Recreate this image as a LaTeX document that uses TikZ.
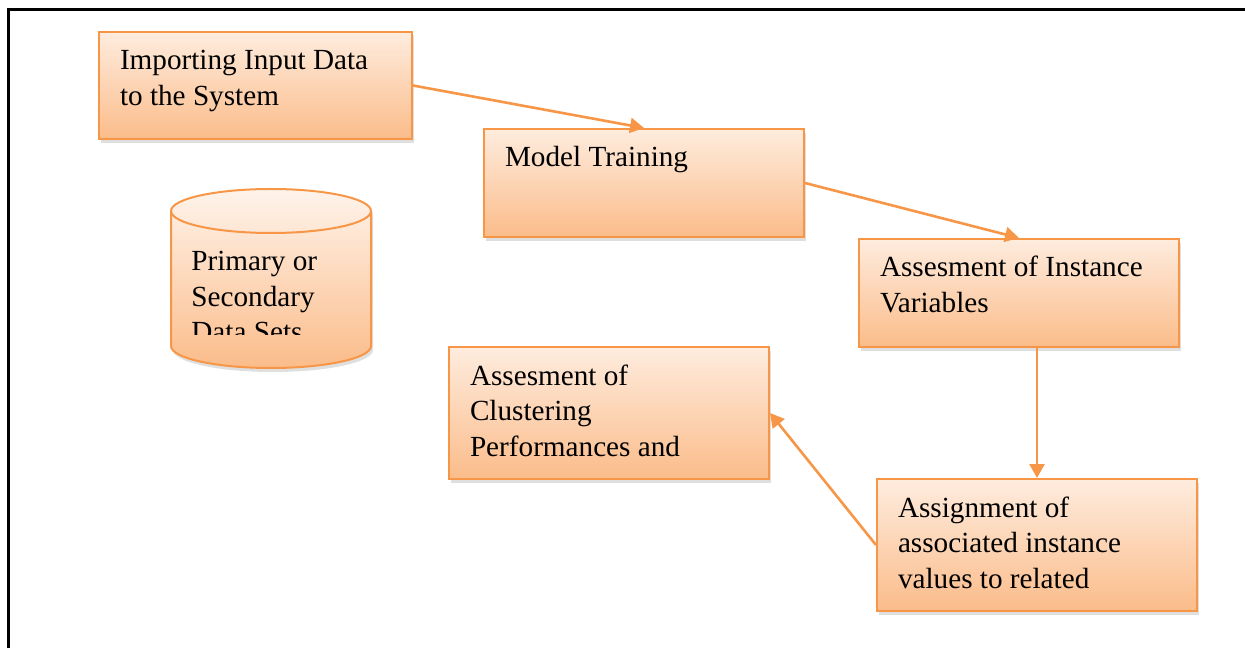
\documentclass[tikz,border=0pt]{standalone}
\usepackage{fontspec}
\setmainfont{Liberation Serif}
\usetikzlibrary{arrows.meta,shadows}

\definecolor{stageline}{RGB}{247,150,70}
\definecolor{stagetop}{RGB}{254,236,222}
\definecolor{stagebot}{RGB}{251,188,138}

\begin{document}
\begin{tikzpicture}[
    x=0.5pt, y=0.5pt,
    stage/.style={draw=stageline, line width=1pt, top color=stagetop, bottom color=stagebot,
      drop shadow={shadow xshift=1pt, shadow yshift=-2pt, opacity=0.25},
      anchor=north west, inner xsep=10.5pt, inner ysep=0pt, text height=19pt,
      font=\fontsize{14.6pt}{17.75pt}\selectfont},
    arr/.style={-{Triangle[length=7pt, width=7.5pt]}, line width=1.3pt, draw=stageline},
  ]
  \useasboundingbox (0,0) rectangle (1245,648);

  % Frame (top and left only)
  \draw[line width=1.5pt] (8,0) -- (8,638) -- (1245,638);

  % Process boxes
  \node[stage, text depth=34.5pt] (import) at (98,617)
    {\parbox[t]{135.5pt}{\raggedright Importing Input Data\\to the System}};
  \node[stage, text depth=35pt] (train) at (483,520)
    {\parbox[t]{139pt}{\raggedright Model Training}};
  \node[stage, text depth=35pt] (assess) at (858,410)
    {\parbox[t]{139pt}{\raggedright Assesment of Instance\\Variables}};
  \node[stage, text depth=47pt] (cluster) at (448,302)
    {\parbox[t]{139pt}{\raggedright Assesment of\\Clustering\\Performances and}};
  \node[stage, text depth=47pt] (assign) at (876,170)
    {\parbox[t]{139pt}{\raggedright Assignment of\\associated instance\\values to related}};

  % Data store cylinder
  \path[draw=stageline, line width=1pt, top color=stagetop!60!white, bottom color=stagebot,
    drop shadow={shadow xshift=1pt, shadow yshift=-2pt, opacity=0.25}]
    (171,437) -- (171,302) arc[start angle=180, end angle=360, x radius=50pt, y radius=11pt]
    -- (371,437) arc[start angle=0, end angle=180, x radius=50pt, y radius=11pt] -- cycle;
  \draw[stageline, line width=1pt]
    (171,437) arc[start angle=180, end angle=360, x radius=50pt, y radius=11pt];
  \begin{scope}
    \clip (171,313) rectangle (371,440);
    \node[anchor=base west, inner sep=0pt, font=\fontsize{14.6pt}{17.75pt}\selectfont] (datasets) at (191,377)
      {\parbox[t]{80pt}{\raggedright Primary or\\Secondary\\Data Sets}};
  \end{scope}

  % Connectors
  \draw[arr] (import.east) -- (train.north);
  \draw[arr] (train.east) -- (assess.north);
  \draw[arr] (assign.north |- assess.south) -- (assign.north);
  \draw[arr] (assign.west) -- (cluster.east);
\end{tikzpicture}
\end{document}
